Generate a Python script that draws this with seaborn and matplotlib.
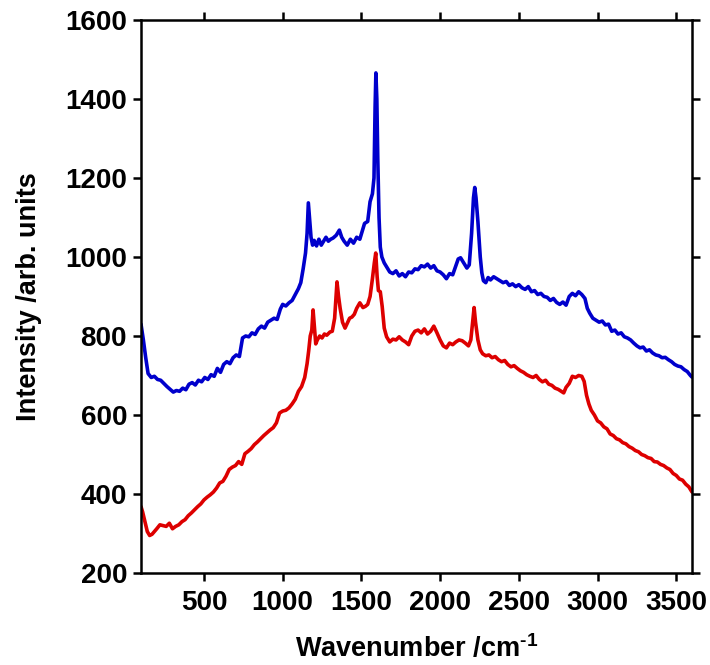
import numpy as np
import pandas as pd
import matplotlib
matplotlib.use("Agg")
import matplotlib.pyplot as plt
import seaborn as sns

# ---- data ----
blue_x = [100,115,130,145,165,185,205,225,245,265,285,305,325,345,365,385,405,425,445,465,485,505,525,545,565,585,605,625,645,665,685,705,725,745,765,785,805,825,845,865,885,905,925,945,965,985,1000,1020,1040,1060,1080,1100,1115,1130,1145,1155,1163,1172,1180,1190,1200,1215,1230,1245,1260,1275,1290,1305,1320,1340,1360,1375,1390,1410,1430,1450,1470,1490,1505,1520,1540,1555,1570,1580,1587,1592,1598,1604,1612,1620,1630,1645,1660,1680,1700,1720,1740,1760,1780,1800,1820,1840,1860,1880,1900,1920,1940,1960,1980,2000,2020,2040,2060,2080,2100,2115,2130,2150,2170,2185,2200,2212,2220,2228,2240,2255,2265,2275,2290,2305,2320,2340,2360,2380,2400,2420,2440,2460,2480,2500,2520,2540,2560,2580,2600,2620,2640,2660,2680,2700,2720,2740,2760,2780,2800,2820,2840,2860,2880,2900,2920,2935,2950,2970,2990,3010,3030,3050,3070,3090,3110,3130,3150,3170,3190,3210,3230,3250,3270,3290,3310,3330,3350,3370,3390,3410,3430,3450,3470,3490,3510,3530,3550,3570,3590,3600]
blue_y = [830,790,745,705,695,698,690,688,680,672,665,658,662,660,668,664,678,682,676,688,684,695,690,702,698,718,708,728,735,730,745,752,748,795,800,798,808,804,818,825,820,835,840,845,842,868,880,876,884,890,905,920,935,970,1010,1060,1137,1090,1050,1030,1042,1028,1045,1030,1040,1050,1040,1045,1048,1055,1068,1050,1040,1030,1045,1035,1050,1045,1065,1085,1090,1140,1160,1200,1380,1466,1400,1250,1100,1025,1000,985,975,962,958,965,952,958,950,962,960,970,968,978,975,982,972,978,965,962,955,945,958,955,978,995,998,985,972,980,1060,1150,1176,1150,1090,1000,960,940,935,948,942,950,945,940,935,938,928,932,925,930,922,918,925,912,915,905,908,900,898,890,895,885,880,886,878,900,908,902,912,905,895,870,858,845,840,835,838,828,830,812,815,805,808,798,795,790,782,775,770,772,762,765,757,752,750,745,746,740,735,728,724,722,715,710,700,696]

red_x = [100,110,125,140,155,170,185,200,220,240,260,280,300,320,340,360,380,400,420,440,460,480,500,520,540,560,580,600,620,640,660,680,700,720,740,760,780,800,820,840,860,880,900,920,940,960,980,1000,1020,1040,1060,1080,1100,1120,1140,1155,1165,1175,1185,1193,1200,1210,1220,1235,1250,1265,1280,1300,1315,1330,1345,1355,1365,1380,1396,1410,1425,1440,1455,1470,1490,1510,1525,1540,1555,1570,1582,1591,1600,1608,1620,1632,1645,1660,1680,1700,1720,1740,1760,1780,1800,1820,1840,1860,1880,1900,1920,1940,1960,1980,2000,2020,2040,2060,2080,2100,2120,2140,2160,2180,2195,2208,2216,2225,2240,2255,2270,2290,2310,2330,2350,2370,2390,2410,2430,2450,2470,2490,2510,2530,2550,2570,2590,2610,2630,2650,2670,2690,2710,2730,2750,2770,2785,2800,2820,2840,2860,2880,2900,2915,2930,2945,2960,2980,3000,3020,3040,3060,3080,3100,3120,3140,3160,3180,3200,3220,3240,3260,3280,3300,3320,3340,3360,3380,3400,3420,3440,3460,3480,3500,3520,3540,3560,3580,3600]
red_y = [368,355,330,305,295,298,305,312,322,320,318,326,312,318,322,330,335,345,352,360,368,375,385,392,398,405,415,428,432,445,462,468,472,482,475,502,508,515,525,532,540,548,555,562,568,580,605,610,612,618,628,640,660,672,695,730,762,800,815,866,830,780,790,800,795,805,802,810,812,845,937,900,870,835,820,832,845,848,855,870,884,872,875,880,900,945,985,1010,950,915,912,875,820,798,785,792,790,798,790,785,778,800,812,815,808,818,805,812,825,808,790,775,770,782,778,785,790,788,782,775,790,840,872,835,790,765,755,750,752,745,748,740,735,738,728,722,725,718,712,708,702,698,695,700,690,684,688,678,675,668,665,660,656,670,680,698,695,700,698,685,650,628,612,600,585,580,570,565,552,548,540,537,530,527,520,516,510,507,500,497,492,490,482,481,475,472,466,462,452,447,438,435,425,418,405]

x_ticks = [500, 1000, 1500, 2000, 2500, 3000, 3500]
y_ticks = [200, 400, 600, 800, 1000, 1200, 1400, 1600]

sns.set_style("ticks")
plt.rcParams['font.family'] = ['Liberation Sans', 'DejaVu Sans']
plt.rcParams['font.weight'] = 'bold'
plt.rcParams['text.color'] = 'black'
plt.rcParams['axes.labelcolor'] = 'black'
plt.rcParams['xtick.color'] = 'black'
plt.rcParams['ytick.color'] = 'black'
plt.rcParams['axes.edgecolor'] = 'black'
plt.rcParams['mathtext.fontset'] = 'custom'
plt.rcParams['mathtext.rm'] = 'Liberation Sans:bold'
plt.rcParams['mathtext.bf'] = 'Liberation Sans:bold'
plt.rcParams['mathtext.default'] = 'bf'

fig = plt.figure(figsize=(7.1, 6.65), dpi=100)
ax = fig.add_axes([141/710, 1-573/665, 551/710, 553/665])

df_b = pd.DataFrame({"x": blue_x, "y": blue_y})
df_r = pd.DataFrame({"x": red_x, "y": red_y})
sns.lineplot(data=df_b, x="x", y="y", ax=ax, color="#0000cc", lw=2.6, sort=False)
sns.lineplot(data=df_r, x="x", y="y", ax=ax, color="#dd0000", lw=2.6, sort=False)

ax.set_xlim(100, 3600)
ax.set_ylim(200, 1600)
ax.set_xticks(x_ticks)
ax.set_yticks(y_ticks)
ax.tick_params(direction='out', length=6, width=1.8, labelsize=20, pad=4,
               colors='black', top=True, right=True, labeltop=False, labelright=False)
ax.tick_params(axis='x', pad=6)
for lab in ax.get_xticklabels() + ax.get_yticklabels():
    lab.set_fontweight('bold')
for s in ax.spines.values():
    s.set_linewidth(1.8)
    s.set_color('black')
    s.set_visible(True)

ax.set_xlabel(r"Wavenumber /cm$^{\text{-1}}$", fontsize=19.5, fontweight='bold', labelpad=13)
ax.set_ylabel("Intensity /arb. units", fontsize=19.5, fontweight='bold', labelpad=17)

fig.savefig("out.png", dpi=100)
